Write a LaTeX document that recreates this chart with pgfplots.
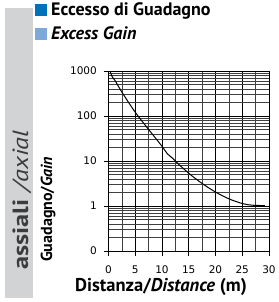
\documentclass[border=0pt]{standalone}
\usepackage{pgfplots}
\pgfplotsset{compat=1.18}
\usepackage{fontspec}
\setmainfont{PT Sans}
\newfontfamily\tickfont{DejaVu Sans}
\definecolor{bandgray}{RGB}{209,211,212}
\definecolor{darkblue}{RGB}{0,114,188}
\definecolor{lightblue}{RGB}{125,168,218}
\definecolor{textgray}{RGB}{60,60,60}
\begin{document}
\begin{tikzpicture}[x=1pt,y=1pt]
\useasboundingbox (0,0) rectangle (278,302);
\fill[bandgray] (5,4) rectangle (33,294);
\node[rotate=90,anchor=base west,font=\fontsize{22}{22}\selectfont,text=textgray,inner sep=0pt] at (28,32) {\scalebox{1.2}[1]{\textbf{assiali}\hspace{0.3em}\textit{/axial}}};
\fill[darkblue] (35,286) rectangle (47,298);
\fill[lightblue] (35,262) rectangle (47,274);
\node[anchor=base west,font=\fontsize{18}{18}\selectfont\bfseries,inner sep=0pt] at (51,286) {Eccesso di Guadagno};
\node[anchor=base west,font=\fontsize{18}{18}\selectfont\bfseries\itshape,inner sep=0pt] at (51,262) {Excess Gain};
\node[anchor=base west,font=\fontsize{18.5}{18.5}\selectfont\bfseries,inner sep=0pt] at (75,10) {Distanza/\textit{Distance} (m)};
\node[rotate=90,anchor=base west,font=\fontsize{16}{16}\selectfont\bfseries,inner sep=0pt] at (52,40) {Guadagno/\textit{Gain}};
\begin{axis}[
  at={(108.5pt,51pt)}, anchor=south west,
  scale only axis, width=160.5pt, height=180pt,
  xmin=0, xmax=30, ymode=log, ymin=0.1, ymax=1000,
  xtick={0,5,...,30}, minor x tick num=1,
  ytick={0.1,1,10,100,1000}, yticklabels={0,1,10,100,1000},
  grid=both,
  major grid style={black, line width=0.6pt},
  minor grid style={black!75, line width=0.5pt},
  axis line style={black, line width=0.6pt},
  tick align=outside, major tick length=5pt, minor tick length=0pt,
  tick style={black, line width=0.6pt},
  xtick pos=bottom, ytick pos=left,
  /pgf/number format/assume math mode=true,
  tick label style={font=\tickfont\fontsize{10.5}{10.5}\selectfont, inner sep=0pt},
  xticklabel style={anchor=north, yshift=-10pt},
  yticklabel style={anchor=east, xshift=-6.5pt},
]
\addplot[black, line width=1pt, smooth] coordinates {
(0.28,1000) (0.7,740) (1.2,620) (2.5,340) (5,121) (7.4,52) (9.9,22) (11.0,14.5) (12.0,11.5) (12.75,9.3) (15.2,5.1) (17.7,3.05) (20.2,1.98) (22.7,1.41) (25.2,1.12) (27.0,1.04) (29.25,1.02)
};
\end{axis}
\end{tikzpicture}
\end{document}
